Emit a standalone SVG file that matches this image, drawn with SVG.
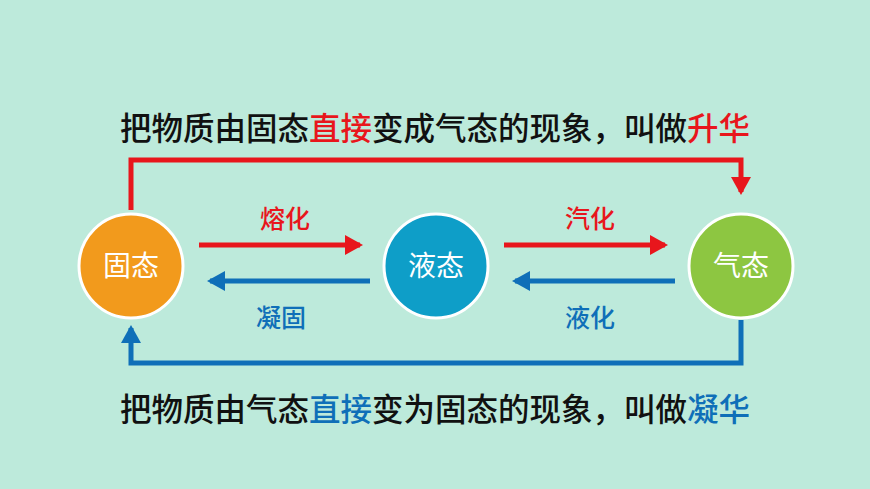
<svg xmlns="http://www.w3.org/2000/svg" width="870" height="489" viewBox="0 0 870 489">
<defs>
<marker id="ar" markerWidth="4" markerHeight="4" refX="3" refY="2" orient="auto" markerUnits="strokeWidth"><path d="M0,0 L3.6,2 L0,4 z" fill="#e8161c"/></marker>
<marker id="ab" markerWidth="4" markerHeight="4" refX="3" refY="2" orient="auto" markerUnits="strokeWidth"><path d="M0,0 L3.6,2 L0,4 z" fill="#0f6fb8"/></marker>
<style>
text{font-family:"Noto Sans CJK SC","Liberation Sans",sans-serif;text-anchor:middle}
.t{font-size:31.5px;fill:#111;font-weight:500}
.n{font-size:28px;fill:#fff}
.l{font-size:25px;font-weight:500}
.r{stroke:#e8161c;stroke-width:5;fill:none}
.b{stroke:#0f6fb8;stroke-width:5;fill:none}
</style>
</defs>
<rect width="870" height="489" fill="#bdeadb"/>
<g id="connectors">
<path class="r" d="M131,210 V160 H741 V192" marker-end="url(#ar)"/>
<path class="b" d="M741,320 V363 H131 V328" marker-end="url(#ab)"/>
<path class="r" d="M199,245 H360" marker-end="url(#ar)"/>
<path class="b" d="M370,281 H210" marker-end="url(#ab)"/>
<path class="r" d="M504,245 H665" marker-end="url(#ar)"/>
<path class="b" d="M675,281 H515" marker-end="url(#ab)"/>
<text class="l" x="285" y="228" fill="#e8161c">熔化</text>
<text class="l" x="281" y="327" fill="#0f6fb8">凝固</text>
<text class="l" x="590" y="228" fill="#e8161c">汽化</text>
<text class="l" x="590" y="327" fill="#0f6fb8">液化</text>
</g>
<g id="solid"><circle cx="131" cy="266" r="52" fill="#f29a1c" stroke="#fff" stroke-width="3"/><text class="n" x="131" y="276">固态</text></g>
<g id="liquid"><circle cx="436" cy="266" r="52" fill="#0e9ec8" stroke="#fff" stroke-width="3"/><text class="n" x="436" y="276">液态</text></g>
<g id="gas"><circle cx="741" cy="266" r="52" fill="#8dc641" stroke="#fff" stroke-width="3"/><text class="n" x="741" y="276">气态</text></g>
<text class="t" x="435" y="140">把物质由固态<tspan fill="#e8161c">直接</tspan>变成气态的现象，叫做<tspan fill="#e8161c">升华</tspan></text>
<text class="t" x="435" y="421">把物质由气态<tspan fill="#0f6fb8">直接</tspan>变为固态的现象，叫做<tspan fill="#0f6fb8">凝华</tspan></text>
</svg>
